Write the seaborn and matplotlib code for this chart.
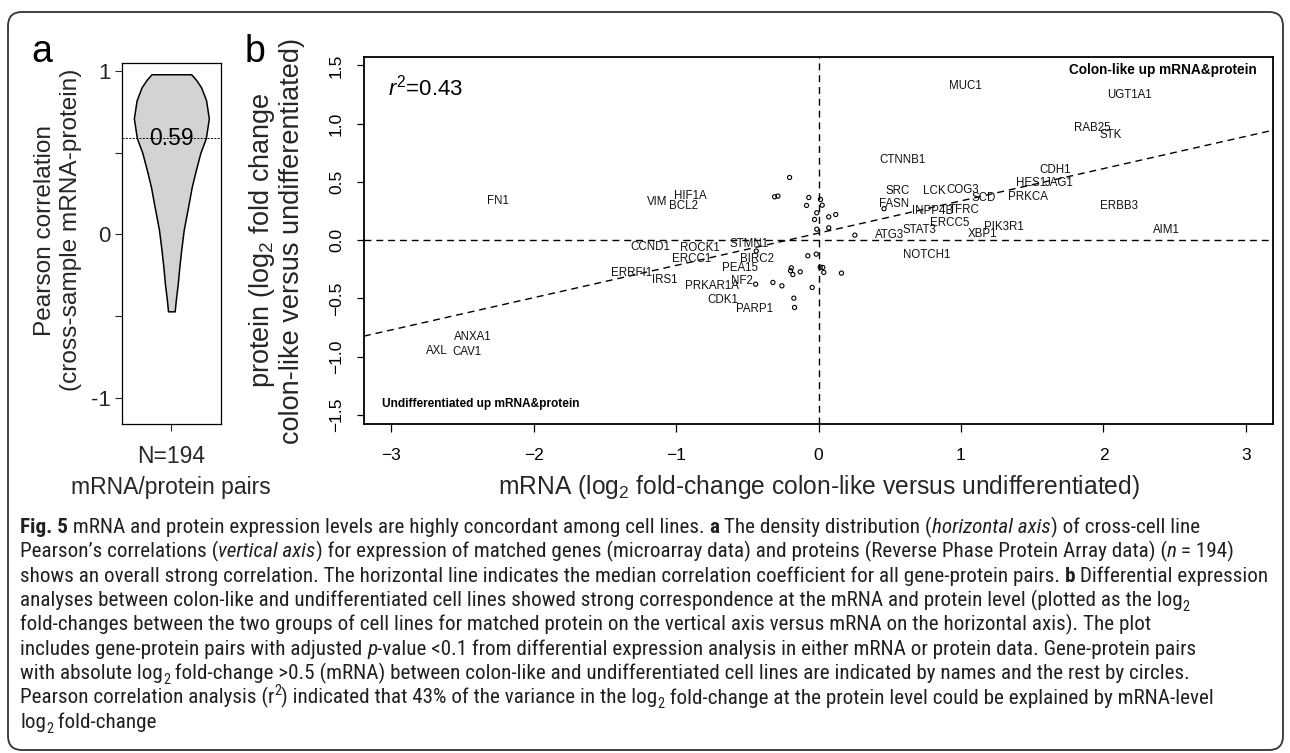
import numpy as np
import pandas as pd
import matplotlib
matplotlib.use("Agg")
import matplotlib.pyplot as plt
import seaborn as sns
from matplotlib.patches import FancyBboxPatch
from matplotlib.font_manager import FontProperties, fontManager

# ---------------- data ----------------
# Panel a: violin outline (correlation level, relative width)
violin_y = [0.98, 0.945, 0.90, 0.82, 0.71, 0.59, 0.50, 0.39, 0.29, 0.19, 0.11, 0.03,
            -0.09, -0.20, -0.30, -0.40, -0.47]
violin_width = [0.40, 0.50, 0.60, 0.70, 0.755, 0.695, 0.585, 0.49, 0.41, 0.35, 0.30, 0.25,
                0.20, 0.16, 0.13, 0.09, 0.067]
median_corr = 0.59
n_pairs = 194

# Panel b: labelled gene-protein pairs
label_genes = ['MUC1', 'UGT1A1', 'RAB25', 'STK', 'CTNNB1', 'CDH1', 'HES1', 'JAG1',
               'SRC', 'LCK', 'COG3', 'SCD', 'PRKCA', 'FASN', 'INPP4B', 'TFRC', 'ERBB3',
               'ERCC5', 'STAT3', 'ATG3', 'PIK3R1', 'XBP1', 'AIM1', 'NOTCH1',
               'FN1', 'VIM', 'HIF1A', 'BCL2', 'CCND1', 'ROCK1', 'STMN1', 'ERCC1', 'BIRC2',
               'ERRFI1', 'PEA15', 'IRS1', 'NF2', 'PRKAR1A', 'CDK1', 'PARP1',
               'ANXA1', 'AXL', 'CAV1']
label_mrna = [1.03, 2.18, 1.92, 2.05, 0.59, 1.66, 1.49, 1.69,
              0.555, 0.81, 1.015, 1.16, 1.47, 0.53, 0.80, 1.02, 2.11,
              0.92, 0.71, 0.50, 1.30, 1.15, 2.44, 0.76,
              -2.25, -1.13, -0.90, -0.95, -1.18, -0.83, -0.49, -0.89, -0.43,
              -1.31, -0.55, -1.08, -0.535, -0.745, -0.67, -0.45,
              -2.43, -2.68, -2.47]
label_protein = [1.32, 1.25, 0.96, 0.90, 0.69, 0.60, 0.49, 0.49,
                 0.42, 0.42, 0.43, 0.36, 0.37, 0.31, 0.25, 0.255, 0.29,
                 0.15, 0.09, 0.04, 0.11, 0.05, 0.09, -0.13,
                 0.34, 0.33, 0.38, 0.29, -0.06, -0.07, -0.035, -0.16, -0.16,
                 -0.28, -0.24, -0.34, -0.35, -0.39, -0.51, -0.59,
                 -0.83, -0.95, -0.96]

# Panel b: unlabelled pairs (circles)
circle_mrna = [-0.203, -0.308, -0.285, -0.068, 0.014, -0.084, 0.026, -0.012, 0.072, 0.121,
               -0.028, 0.072, -0.012, 0.255, 0.46, -0.437, -0.075, -0.016, -0.191, -0.196,
               -0.180, -0.128, 0.012, 0.030, 0.037, 0.161, -0.441, -0.320, -0.257, -0.044,
               -0.173, -0.168]
circle_protein = [0.538, 0.372, 0.378, 0.366, 0.349, 0.298, 0.300, 0.235, 0.200, 0.220,
                  0.177, 0.106, 0.094, 0.043, 0.27, -0.094, -0.134, -0.120, -0.238, -0.263,
                  -0.295, -0.272, -0.232, -0.234, -0.277, -0.283, -0.378, -0.363, -0.392, -0.406,
                  -0.498, -0.578]

fit_intercept = 0.06
fit_slope = 0.277
r_squared = 0.43

xticks_b = [-3, -2, -1, 0, 1, 2, 3]
xticklabels_b = ['\u22123', '\u22122', '\u22121', '0', '1', '2', '3']
yticks_b = [-1.5, -1.0, -0.5, 0.0, 0.5, 1.0, 1.5]
yticklabels_b = ['\u22121.5', '\u22121.0', '\u22120.5', '0.0', '0.5', '1.0', '1.5']
yticks_a = [-1, -0.5, 0, 0.5, 1]
yticklabels_a = ['-1', '', '0', '', '1']

caption_lines = [
    [("Fig. 5", "b"), (" mRNA and protein expression levels are highly concordant among cell lines. ", "r"),
     ("a", "b"), (" The density distribution (", "r"), ("horizontal axis", "i"), (") of cross-cell line", "r")],
    [("Pearson\u2019s correlations (", "r"), ("vertical axis", "i"),
     (") for expression of matched genes (microarray data) and proteins (Reverse Phase Protein Array data) (", "r"),
     ("n", "i"), (" = 194)", "r")],
    [("shows an overall strong correlation. The horizontal line indicates the median correlation coefficient for all gene-protein pairs. ", "r"),
     ("b", "b"), (" Differential expression", "r")],
    [("analyses between colon-like and undifferentiated cell lines showed strong correspondence at the mRNA and protein level (plotted as the log", "r"),
     ("2", "sub")],
    [("fold-changes between the two groups of cell lines for matched protein on the vertical axis versus mRNA on the horizontal axis). The plot", "r")],
    [("includes gene-protein pairs with adjusted ", "r"), ("p", "i"),
     ("-value <0.1 from differential expression analysis in either mRNA or protein data. Gene-protein pairs", "r")],
    [("with absolute log", "r"), ("2", "sub"),
     (" fold-change >0.5 (mRNA) between colon-like and undifferentiated cell lines are indicated by names and the rest by circles.", "r")],
    [("Pearson correlation analysis (r", "r"), ("2", "sup"),
     (") indicated that 43% of the variance in the log", "r"), ("2", "sub"),
     (" fold-change at the protein level could be explained by mRNA-level", "r")],
    [("log", "r"), ("2", "sub"), (" fold-change", "r")],
]

# ---------------- style ----------------
sns.set_style("ticks")
plt.rcParams['font.family'] = ['Liberation Sans', 'DejaVu Sans']
plt.rcParams['mathtext.fontset'] = 'custom'
plt.rcParams['mathtext.rm'] = 'Liberation Sans'
plt.rcParams['mathtext.it'] = 'Liberation Sans:italic'
plt.rcParams['mathtext.bf'] = 'Liberation Sans:bold'
plt.rcParams['axes.linewidth'] = 1.0
plt.rcParams['xtick.direction'] = 'out'
plt.rcParams['ytick.direction'] = 'out'

W, H = 1290, 753
fig = plt.figure(figsize=(W / 100, H / 100), dpi=100)
fig.patch.set_facecolor('white')

def px_axes(l, t, r, b):
    return fig.add_axes([l / W, 1 - b / H, (r - l) / W, (b - t) / H])

ink = 'black'

# ---------------- panel a ----------------
axa = px_axes(121.7, 63.3, 221, 424)
vy = np.array(violin_y)
vw = np.array(violin_width)
axa.fill_betweenx(vy, -vw / 2, vw / 2, facecolor='#d3d3d3', edgecolor=ink, linewidth=1.1, zorder=2)
axa.axhline(median_corr, color=ink, lw=0.7, ls=(0, (2, 1.5)), zorder=3)
axa.text(0, median_corr, f"{median_corr:.2f}", ha='center', va='center', fontsize=16.5, color=ink, zorder=4)
axa.set_xlim(-0.5, 0.5)
axa.set_ylim(-1.159, 1.047)
axa.set_yticks(yticks_a)
axa.set_yticklabels(yticklabels_a)
axa.set_xticks([0])
axa.set_xticklabels([f"N={n_pairs}"])
axa.tick_params(axis='y', length=5, width=0.8, pad=3, labelsize=16)
axa.tick_params(axis='x', length=5, width=0.8, pad=10, labelsize=16.5)
for s in axa.spines.values():
    s.set_linewidth(0.9)
    s.set_color(ink)
axa.set_xlabel("mRNA/protein pairs", fontsize=16.5, va='center')
axa.xaxis.set_label_coords(0.5, (424 - 487) / (424 - 63.3))
axa.set_ylabel("Pearson correlation\n(cross-sample mRNA-protein)", fontsize=17.6,
               va='center', ha='center', linespacing=1.2)
axa.yaxis.set_label_coords((58 - 121.7) / (221 - 121.7), (424 - 230) / (424 - 63.3))

# ---------------- panel b ----------------
axb = px_axes(364, 57, 1273, 424)
xmin, xmax = -3.19, 3.19
ymin, ymax = -1.578, 1.572
axb.set_xlim(xmin, xmax)
axb.set_ylim(ymin, ymax)
dash = (0, (5, 3.5))
axb.axhline(0, color=ink, lw=1.0, ls=dash, zorder=1)
axb.axvline(0, color=ink, lw=1.0, ls=dash, zorder=1)
axb.axline((0, fit_intercept), slope=fit_slope, color=ink, lw=1.0, ls=dash, zorder=1)

circ = pd.DataFrame({'mRNA': circle_mrna, 'protein': circle_protein})
sns.scatterplot(data=circ, x='mRNA', y='protein', ax=axb, marker='o', s=9,
                facecolor='none', edgecolor=ink, linewidth=0.8, zorder=3, legend=False)

for g, x, y in zip(label_genes, label_mrna, label_protein):
    axb.text(x, y, g, ha='center', va='center', fontsize=8.3, color='#111111', zorder=4)

axb.text(3.076, 1.459, "Colon-like up mRNA&protein", ha='right', va='center',
         fontsize=9.8, fontweight='bold', color=ink)
axb.text(-3.065, -1.408, "Undifferentiated up mRNA&protein", ha='left', va='center',
         fontsize=8.6, fontweight='bold', color=ink)
axb.text(-3.02, 1.31, r"$r^{2}$" + f"={r_squared:.2f}", ha='left', va='center', fontsize=16, color=ink)

axb.set_xticks(xticks_b)
axb.set_xticklabels(xticklabels_b)
axb.set_yticks(yticks_b)
axb.set_yticklabels(yticklabels_b, rotation=90, va='center')
axb.tick_params(axis='both', length=5.4, width=0.9, labelsize=12.5, colors=ink)
axb.tick_params(axis='x', pad=12)
axb.tick_params(axis='y', pad=9)
for s in axb.spines.values():
    s.set_linewidth(1.3)
    s.set_color(ink)
axb.set_xlabel("mRNA (log$_{2}$ fold-change colon-like versus undifferentiated)", fontsize=17.7, va='center')
axb.xaxis.set_label_coords(0.5, (424 - 487) / (424 - 57))
axb.set_ylabel("protein (log$_{2}$ fold change\ncolon-like versus undifferentiated)", fontsize=19.5,
               va='center', ha='center', linespacing=1.08)
axb.yaxis.set_label_coords((276 - 364) / (1273 - 364), 0.5)

# panel letters
fig.text(42 / W, 1 - 62 / H, "a", fontsize=27, ha='center', va='baseline', color=ink)
fig.text(255 / W, 1 - 62 / H, "b", fontsize=27, ha='center', va='baseline', color=ink)

# frame
frame = FancyBboxPatch((8, 3), 1275, 738, boxstyle="round,pad=0,rounding_size=14",
                       transform=None, facecolor='none', edgecolor='#333333', linewidth=1.3, zorder=-5)
fig.patches.append(frame)

# ---------------- caption ----------------
def pick_caption_font():
    names = {f.name for f in fontManager.ttflist}
    for p in ['Liberation Sans Narrow', 'Roboto Condensed', 'Open Sans Condensed',
              'DejaVu Sans Condensed', 'Noto Sans Condensed']:
        if p in names:
            return p, 'normal'
    for fam in ['Noto Sans', 'Open Sans', 'DejaVu Sans', 'Roboto']:
        for f in fontManager.ttflist:
            if f.name == fam and str(f.stretch) in ('condensed', 'semi-condensed', 'extra-condensed') \
                    and f.style == 'normal':
                return fam, str(f.stretch)
    return 'Roboto', 'normal'

cap_family, cap_stretch = pick_caption_font()
fig.canvas.draw()
rend = fig.canvas.get_renderer()

def seg_prop(style, size):
    kw = dict(family=cap_family, size=size, stretch=cap_stretch)
    if style == 'b':
        kw['weight'] = 'bold'
    elif style == 'i':
        kw['style'] = 'italic'
    elif style in ('sub', 'sup'):
        kw['size'] = size * 0.68
    return FontProperties(**kw)

def seg_width(txt, style, size):
    p = seg_prop(style, size)
    w1 = rend.get_text_width_height_descent('|' + txt + '|', p, ismath=False)[0]
    w0 = rend.get_text_width_height_descent('||', p, ismath=False)[0]
    return w1 - w0

def line_width(line, size):
    return sum(seg_width(t, s, size) for t, s in line)

ref = 10.0
cap_size = ref * 1238.0 / max(line_width(l, ref) for l in caption_lines)
px_per_pt = 100 / 72.0
x0 = 20.0
base0 = 533.0
step = 24.4
for i, line in enumerate(caption_lines):
    x = x0
    yb = base0 + i * step
    for txt, style in line:
        p = seg_prop(style, cap_size)
        dy = 0.0
        if style == 'sub':
            dy = 0.22 * cap_size * px_per_pt
        elif style == 'sup':
            dy = -0.42 * cap_size * px_per_pt
        fig.text(x / W, 1 - (yb + dy) / H, txt, fontproperties=p, ha='left', va='baseline', color='#231f20')
        x += seg_width(txt, style, cap_size)

fig.savefig("out.png", dpi=100, facecolor='white')
